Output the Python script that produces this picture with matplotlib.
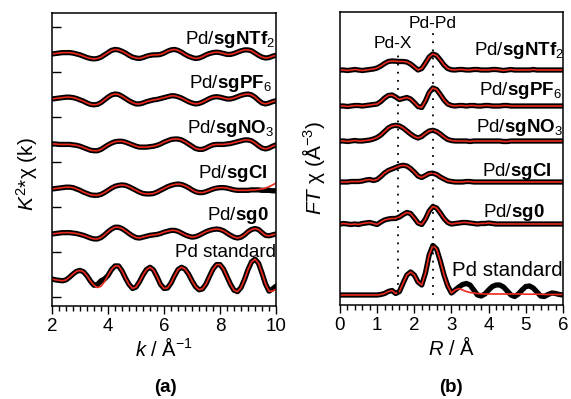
import numpy as np
import matplotlib
matplotlib.use("Agg")
import matplotlib.pyplot as plt

plt.rcParams['font.family'] = ['Liberation Sans', 'DejaVu Sans']
plt.rcParams['mathtext.fontset'] = 'custom'
plt.rcParams['mathtext.rm'] = 'Liberation Sans'
plt.rcParams['mathtext.it'] = 'Liberation Sans:italic'
plt.rcParams['mathtext.bf'] = 'Liberation Sans:bold'

# ---- (a) k-space, k = 2 ... 10 step 0.125 ----
k = np.arange(2.0, 10.0001, 0.125)

k_std = [0.00, -0.02, -0.03, -0.04, -0.02, 0.04, 0.11, 0.17,
         0.19, 0.16, 0.07, -0.05, -0.14, -0.12, -0.04, 0.00,
         0.08, 0.21, 0.29, 0.29, 0.18, 0.02, -0.12, -0.21,
         -0.18, -0.06, 0.09, 0.21, 0.26, 0.20, 0.05, -0.12,
         -0.21, -0.20, -0.09, 0.07, 0.21, 0.26, 0.22, 0.11,
         -0.04, -0.17, -0.24, -0.22, -0.11, 0.06, 0.22, 0.32,
         0.32, 0.22, 0.05, -0.12, -0.25, -0.28, -0.19, -0.01,
         0.21, 0.38, 0.44, 0.35, 0.13, -0.11, -0.27, -0.22,
         -0.16]
k_std_fit = [0.00, -0.02, -0.03, -0.04, -0.02, 0.04, 0.11, 0.17,
             0.19, 0.16, 0.07, -0.05, -0.14, -0.19, -0.16, -0.06,
             0.08, 0.21, 0.29, 0.29, 0.18, 0.02, -0.12, -0.21,
             -0.18, -0.06, 0.09, 0.21, 0.26, 0.20, 0.05, -0.12,
             -0.21, -0.20, -0.09, 0.07, 0.21, 0.26, 0.22, 0.11,
             -0.04, -0.17, -0.24, -0.22, -0.11, 0.06, 0.22, 0.32,
             0.32, 0.22, 0.05, -0.12, -0.25, -0.28, -0.19, -0.01,
             0.21, 0.38, 0.44, 0.35, 0.13, -0.11, -0.27, -0.27,
             -0.22]
k_sg0 = [0.00, 0.01, 0.02, 0.03, 0.03, 0.03, 0.02, 0.01,
         -0.01, -0.03, -0.06, -0.09, -0.11, -0.11, -0.08, -0.02,
         0.05, 0.11, 0.15, 0.15, 0.12, 0.07, 0.01, -0.04,
         -0.08, -0.09, -0.07, -0.05, -0.03, -0.02, -0.01, 0.01,
         0.04, 0.06, 0.08, 0.08, 0.06, 0.02, -0.02, -0.05,
         -0.07, -0.06, -0.03, 0.01, 0.05, 0.08, 0.10, 0.11,
         0.10, 0.07, 0.02, -0.03, -0.07, -0.09, -0.07, -0.02,
         0.05, 0.10, 0.12, 0.10, 0.03, -0.03, -0.04, -0.02,
         0.00]
k_cl = [0.00, 0.01, 0.02, 0.03, 0.04, 0.04, 0.03, 0.00,
        -0.03, -0.07, -0.10, -0.13, -0.14, -0.14, -0.12, -0.08,
        -0.03, 0.02, 0.06, 0.08, 0.09, 0.08, 0.05, 0.01,
        -0.03, -0.07, -0.10, -0.11, -0.11, -0.10, -0.07, -0.03,
        0.01, 0.05, 0.08, 0.10, 0.11, 0.10, 0.07, 0.03,
        -0.02, -0.06, -0.08, -0.08, -0.06, -0.03, 0.00, 0.02,
        0.03, 0.03, 0.02, 0.00, -0.02, -0.03, -0.03, -0.03,
        -0.03, -0.02, -0.02, -0.02, -0.03, -0.03, -0.03, -0.04,
        -0.04]
k_cl_fit = [0.00, 0.01, 0.02, 0.03, 0.04, 0.04, 0.03, 0.00,
            -0.03, -0.07, -0.10, -0.13, -0.14, -0.14, -0.12, -0.08,
            -0.03, 0.02, 0.06, 0.08, 0.09, 0.08, 0.05, 0.01,
            -0.03, -0.07, -0.10, -0.11, -0.11, -0.10, -0.07, -0.03,
            0.01, 0.05, 0.08, 0.10, 0.11, 0.10, 0.07, 0.03,
            -0.02, -0.06, -0.08, -0.08, -0.06, -0.03, 0.00, 0.02,
            0.03, 0.03, 0.02, 0.00, -0.02, -0.03, -0.03, -0.03,
            -0.03, -0.02, -0.02, -0.01, 0.00, 0.02, 0.05, 0.09,
            0.13]
k_no3 = [0.00, 0.00, -0.01, -0.01, -0.01, -0.01, -0.02, -0.03,
         -0.05, -0.08, -0.11, -0.14, -0.15, -0.15, -0.12, -0.07,
         -0.02, 0.02, 0.05, 0.06, 0.06, 0.04, 0.01, -0.02,
         -0.05, -0.07, -0.07, -0.07, -0.06, -0.05, -0.03, 0.00,
         0.04, 0.07, 0.10, 0.11, 0.11, 0.09, 0.05, 0.00,
         -0.05, -0.10, -0.12, -0.12, -0.09, -0.05, -0.02, -0.01,
         -0.01, -0.01, 0.00, 0.01, 0.03, 0.05, 0.07, 0.09,
         0.09, 0.07, 0.02, -0.04, -0.09, -0.11, -0.09, -0.05,
         -0.02]
k_pf6 = [0.00, 0.01, 0.02, 0.03, 0.04, 0.04, 0.03, 0.01,
         -0.02, -0.05, -0.09, -0.12, -0.13, -0.12, -0.08, -0.02,
         0.04, 0.09, 0.11, 0.10, 0.06, 0.01, -0.04, -0.08,
         -0.11, -0.11, -0.09, -0.06, -0.04, -0.02, -0.01, 0.01,
         0.03, 0.05, 0.07, 0.07, 0.05, 0.02, -0.02, -0.06,
         -0.09, -0.11, -0.10, -0.07, -0.03, 0.01, 0.04, 0.05,
         0.04, 0.02, 0.00, 0.00, 0.02, 0.05, 0.08, 0.10,
         0.11, 0.09, 0.04, -0.03, -0.09, -0.11, -0.09, -0.06,
         -0.04]
k_ntf2 = [0.00, 0.01, 0.02, 0.03, 0.03, 0.03, 0.02, 0.00,
          -0.02, -0.05, -0.08, -0.10, -0.11, -0.10, -0.07, -0.02,
          0.03, 0.08, 0.10, 0.09, 0.06, 0.02, -0.03, -0.07,
          -0.09, -0.10, -0.08, -0.05, -0.03, -0.02, -0.02, -0.01,
          0.02, 0.06, 0.09, 0.10, 0.08, 0.04, -0.01, -0.05,
          -0.08, -0.10, -0.09, -0.06, -0.02, 0.01, 0.03, 0.04,
          0.03, 0.01, -0.01, -0.01, 0.01, 0.04, 0.07, 0.09,
          0.09, 0.07, 0.02, -0.03, -0.07, -0.09, -0.08, -0.05,
          -0.03]

# ---- (b) R-space, R = 0 ... 6 step 0.1 ----
R = np.arange(0.0, 6.0001, 0.1)

ft_std = [0.0, 0.0, 0.0, 0.0, 0.0, 0.0, 0.0, 0.0, 0.0, 0.0,
          0.0, 0.05, 0.15, 0.35, 0.45, 0.15, 0.35, 1.2, 2.0, 2.3,
          2.0, 1.3, 1.0, 2.2, 4.0, 4.95, 4.6, 3.4, 2.0, 0.9,
          0.2, 0.5, 0.8, 1.05, 1.15, 1.0, 0.5, 0.0, -0.1, 0.1,
          0.5, 0.85, 1.0, 1.0, 0.8, 0.4, 0.0, -0.15, 0.1, 0.5,
          0.85, 0.9, 0.7, 0.3, -0.1, -0.15, 0.05, 0.2, 0.15, 0.05,
          0.0]
ft_std_fit = [0.0, 0.0, 0.0, 0.0, 0.0, 0.0, 0.0, 0.0, 0.0, 0.0,
              0.0, 0.05, 0.15, 0.35, 0.45, 0.15, 0.35, 1.2, 2.0, 2.3,
              2.0, 1.3, 1.0, 2.2, 4.0, 4.95, 4.6, 3.4, 2.0, 0.9,
              0.2, 0.5, 0.65, 0.5, 0.35, 0.25, 0.2, 0.15, 0.12, 0.1,
              0.1, 0.1, 0.1, 0.1, 0.1, 0.1, 0.1, 0.1, 0.1, 0.1,
              0.08, 0.08, 0.08, 0.08, 0.08, 0.05, 0.05, 0.05, 0.05, 0.05,
              0.05]
ft_sg0 = [0.0, 0.05, 0.0, -0.05, 0.0, -0.05, 0.05, 0.1, 0.15, 0.05,
          -0.05, 0.2, 0.4, 0.5, 0.55, 0.55, 0.7, 0.95, 1.15, 1.05,
          0.6, 0.1, -0.05, 0.5, 1.3, 1.75, 1.6, 1.1, 0.55, 0.15,
          0.0, 0.05, 0.1, 0.15, 0.15, 0.1, 0.05, 0.0, 0.05, 0.05,
          0.1, 0.05, 0.0, 0.0, 0.0, 0.0, 0.0, 0.0, 0.0, 0.0,
          0.0, 0.0, 0.0, 0.0, 0.0, 0.0, 0.0, 0.0, 0.0, 0.0,
          0.0]
ft_cl = [0.0, 0.0, 0.0, 0.05, 0.05, 0.05, 0.1, 0.2, 0.25, 0.15,
         0.25, 0.55, 0.9, 1.15, 1.3, 1.45, 1.6, 1.67, 1.6, 1.35,
         1.0, 0.6, 0.45, 0.65, 0.85, 0.88, 0.75, 0.5, 0.3, 0.12,
         0.05, 0.0, 0.0, 0.0, 0.05, 0.05, 0.0, 0.0, 0.0, 0.0,
         0.0, 0.0, 0.0, 0.0, 0.0, 0.0, 0.0, 0.0, 0.0, 0.0,
         0.0, 0.0, 0.0, 0.0, 0.0, 0.0, 0.0, 0.0, 0.0, 0.0,
         0.0]
ft_no3 = [0.0, 0.0, -0.05, 0.0, 0.05, 0.0, 0.0, 0.05, 0.1, 0.2,
          0.35, 0.6, 0.95, 1.3, 1.5, 1.57, 1.5, 1.3, 1.0, 0.7,
          0.45, 0.3, 0.45, 0.75, 1.0, 1.07, 0.95, 0.7, 0.4, 0.15,
          0.05, 0.0, 0.0, 0.0, 0.0, -0.05, 0.0, 0.0, 0.0, 0.0,
          0.0, 0.0, 0.0, 0.0, -0.05, -0.05, 0.0, 0.0, 0.0, 0.0,
          0.0, 0.0, 0.0, 0.0, 0.0, 0.0, 0.0, 0.0, 0.0, 0.0,
          0.0]
ft_pf6 = [0.0, 0.0, -0.05, 0.0, 0.05, 0.05, 0.0, 0.05, 0.1, 0.15,
          0.2, 0.45, 0.8, 1.05, 1.1, 0.9, 0.65, 0.75, 0.85, 0.7,
          0.35, -0.05, -0.15, 0.5, 1.35, 1.8, 1.65, 1.15, 0.6, 0.2,
          0.05, 0.0, 0.05, 0.05, 0.0, 0.05, 0.05, 0.0, 0.0, 0.05,
          0.05, 0.0, 0.0, 0.0, 0.05, 0.05, 0.0, 0.0, 0.0, 0.0,
          0.0, 0.0, 0.0, 0.0, 0.0, 0.0, 0.0, 0.0, 0.0, 0.0,
          0.0]
ft_ntf2 = [0.0, 0.0, -0.05, 0.0, 0.05, 0.0, -0.05, 0.0, 0.05, 0.1,
           0.2, 0.4, 0.65, 0.85, 0.9, 0.88, 0.85, 0.85, 0.8, 0.6,
           0.3, 0.0, 0.15, 0.7, 1.3, 1.6, 1.45, 1.0, 0.5, 0.15,
           0.02, 0.0, 0.05, 0.05, 0.0, 0.0, 0.05, 0.05, 0.0, 0.0,
           0.0, 0.05, 0.05, 0.0, -0.05, 0.0, 0.05, 0.0, 0.0, 0.0,
           0.0, 0.0, 0.05, 0.0, 0.0, 0.0, 0.0, 0.0, 0.0, 0.0,
           0.0]

labels = ['Pd standard', r'Pd/$\mathbf{sg0}$', r'Pd/$\mathbf{sgCl}$',
          r'Pd/$\mathbf{sgNO}_3$', r'Pd/$\mathbf{sgPF}_6$', r'Pd/$\mathbf{sgNTf}_2$']

k_data = [k_std, k_sg0, k_cl, k_no3, k_pf6, k_ntf2]
k_fit = [k_std_fit, k_sg0, k_cl_fit, k_no3, k_pf6, k_ntf2]
ft_data = [ft_std, ft_sg0, ft_cl, ft_no3, ft_pf6, ft_ntf2]
ft_fit = [ft_std_fit, ft_sg0, ft_cl, ft_no3, ft_pf6, ft_ntf2]

# vertical stacking
k_offsets = [0.4, 1.4, 2.4, 3.4, 4.4, 5.4]
ft_offsets = [1.0, 8.1, 12.3, 16.4, 19.9, 23.5]

RED = '#ec2a1c'
fs = 13.5

fig = plt.figure(figsize=(5.71, 3.99), dpi=100)
ax1 = fig.add_axes([0.0911, 0.2331, 0.3923, 0.7343])
ax2 = fig.add_axes([0.5954, 0.2356, 0.3905, 0.7343])

for d, f, off in zip(k_data, k_fit, k_offsets):
    ax1.plot(k, np.array(d) + off, color='black', lw=3.8,
             solid_capstyle='round', solid_joinstyle='round')
    ax1.plot(k, np.array(f) + off, color=RED, lw=1.2)

for d, f, off in zip(ft_data, ft_fit, ft_offsets):
    ax2.plot(R, np.array(d) + off, color='black', lw=3.8,
             solid_capstyle='round', solid_joinstyle='round')
    ax2.plot(R, np.array(f) + off, color=RED, lw=1.2)

# sample labels
k_lab_x = [10.0, 9.75, 9.68, 9.93, 9.86, 9.96]
k_lab_y = [0.89, 1.71, 2.64, 3.64, 4.64, 5.62]
for t, x, y in zip(labels, k_lab_x, k_lab_y):
    ax1.text(x, y, t, ha='right', va='baseline', fontsize=fs)

ft_lab_x = [5.99, 5.51, 5.7, 6.0, 5.97, 6.02]
ft_lab_y = [2.9, 8.8, 12.9, 17.3, 21.0, 25.0]
ft_lab_fs = [14.8, fs, fs, fs, fs, fs]
for t, x, y, s in zip(labels, ft_lab_x, ft_lab_y, ft_lab_fs):
    ax2.text(x, y, t, ha='right', va='baseline', fontsize=s)

# shell markers
ax2.vlines([1.55], 1.2, 25.3, colors='black', linestyles=(0, (1, 3.5)), lw=1.3)
ax2.vlines([2.5], 1.0, 27.3, colors='black', linestyles=(0, (1, 3.5)), lw=1.3)
ax2.text(1.43, 25.7, 'Pd-X', ha='center', va='baseline', fontsize=12.5)
ax2.text(2.5, 27.7, 'Pd-Pd', ha='center', va='baseline', fontsize=12.5)

# axes styling
ax1.set_xlim(2, 10)
ax1.set_ylim(-0.2, 6.31)
ax1.set_xticks([2, 4, 6, 8, 10])
ax1.xaxis.set_minor_locator(matplotlib.ticker.MultipleLocator(0.25))
ax1.set_yticks(range(7))
ax1.tick_params(axis='y', direction='in', length=6.5, width=1, labelleft=False)

ax2.set_xlim(0, 6)
ax2.set_ylim(0, 29.3)
ax2.set_xticks(range(7))
ax2.xaxis.set_minor_locator(matplotlib.ticker.MultipleLocator(0.2))
ax2.tick_params(axis='y', left=False, labelleft=False)

for ax in (ax1, ax2):
    ax.tick_params(axis='x', which='major', direction='out', length=6, width=1,
                   labelsize=fs, pad=2.5)
    ax.tick_params(axis='x', which='minor', direction='out', length=3.5, width=1)
    for s in ax.spines.values():
        s.set_linewidth(1.1)

ax1.set_xlabel(r'$\mathit{k}$ / Å$^{-1}$', fontsize=14.5)
ax1.xaxis.set_label_coords(0.5, -0.105)
ax1.set_ylabel(r'$\mathit{K}^{2}$*χ (k)', fontsize=15)
ax1.yaxis.set_label_coords(-0.054, 0.45)

ax2.set_xlabel(r'$\mathit{R}$ / Å', fontsize=14.5)
ax2.xaxis.set_label_coords(0.5, -0.105)
ax2.set_ylabel(r'$\mathit{FT}$ χ (Å$^{-3}$)', fontsize=15)
ax2.yaxis.set_label_coords(-0.058, 0.467)

fig.text(165 / 571, 1 - 392 / 399, '(a)', ha='center', va='baseline',
         fontweight='bold', fontsize=13.5)
fig.text(451 / 571, 1 - 392 / 399, '(b)', ha='center', va='baseline',
         fontweight='bold', fontsize=13.5)

fig.savefig('out.png', dpi=100)
